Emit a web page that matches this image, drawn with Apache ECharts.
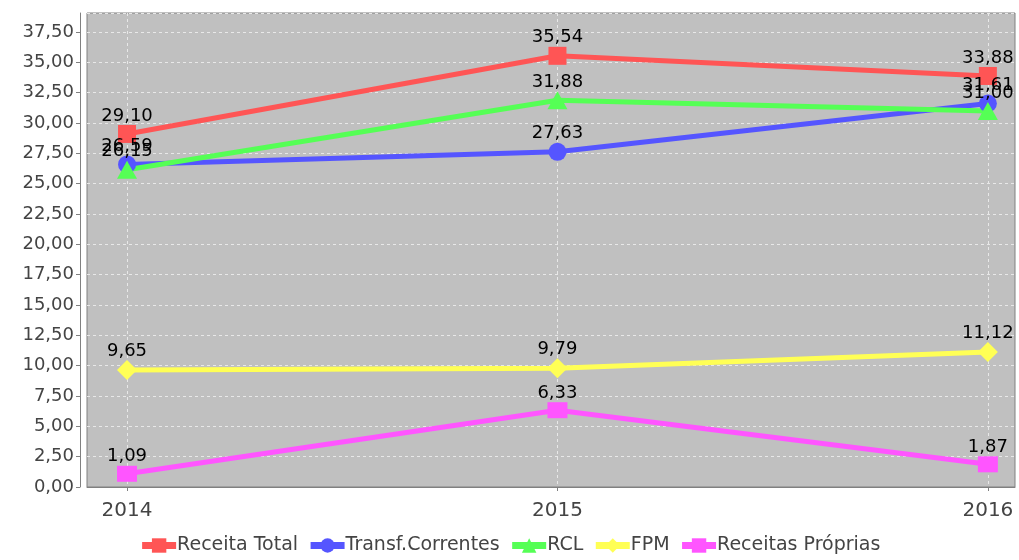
<!DOCTYPE html>
<html>
<head>
<meta charset="utf-8">
<script src="https://cdn.jsdelivr.net/npm/echarts@6/dist/echarts.min.js"></script>
<style>
  html, body { margin: 0; padding: 0; background: #fff; }
  #chart { width: 1019px; height: 560px; }
</style>
</head>
<body>
<div id="chart"></div>
<script>
// dados do gráfico
var anos = [2014, 2015, 2016];
var receitaTotal = [29.10, 35.54, 33.88];
var transfCorrentes = [26.59, 27.63, 31.61];
var rcl = [26.15, 31.88, 31.00];
var fpm = [9.65, 9.79, 11.12];
var receitasProprias = [1.09, 6.33, 1.87];

var nomes = ['Receita Total', 'Transf.Correntes', 'RCL', 'FPM', 'Receitas Próprias'];
var cores = ['#ff5555', '#5555ff', '#55ff55', '#ffff55', '#ff55ff'];
var simbolos = ['rect', 'circle', 'triangle', 'diamond', 'rect'];
var tamanhos = [[18, 18], 18, [20, 18], [20, 20], [20, 16]];
var valores = [receitaTotal, transfCorrentes, rcl, fpm, receitasProprias];

function fmt(v) {
    return Number(v).toFixed(2).replace('.', ',');
}

var myChart = echarts.init(document.getElementById('chart'));

var series = [];
for (var i = 0; i < nomes.length; i++) {
    series.push({
        name: nomes[i],
        type: 'line',
        data: anos.map(function (a, j) { return [a, valores[i][j]]; }),
        symbol: simbolos[i],
        symbolSize: tamanhos[i],
        lineStyle: { width: 5, color: cores[i] },
        itemStyle: { color: cores[i] },
        label: {
            show: true,
            position: 'top',
            distance: 0,
            color: '#000',
            fontFamily: 'DejaVu Sans',
            fontSize: 18,
            formatter: function (p) { return fmt(p.value[1]); }
        },
        emphasis: { disabled: true },
        animation: false
    });
}

var option = {
    backgroundColor: '#fff',
    textStyle: { fontFamily: 'DejaVu Sans' },
    grid: {
        left: 87,
        right: 4,
        top: 13,
        bottom: 73,
        show: true,
        backgroundColor: '#c0c0c0',
        borderColor: '#808080',
        borderWidth: 1
    },
    legend: {
        bottom: 0,
        left: 'center',
        itemGap: 9,
        itemWidth: 34,
        itemHeight: 18,
        lineStyle: { width: 7 },
        textStyle: { color: '#444', fontSize: 19, fontFamily: 'DejaVu Sans', padding: [0, 0, 0, -4] },
        data: nomes
    },
    xAxis: {
        type: 'value',
        min: 2013.907,
        max: 2016.063,
        offset: 6,
        axisLine: { show: true, lineStyle: { color: '#808080', width: 1 } },
        axisTick: { show: true, length: 4, customValues: anos, lineStyle: { color: '#808080' } },
        axisLabel: {
            customValues: anos,
            color: '#444',
            fontSize: 20,
            margin: 8,
            formatter: function (v) { return String(v); }
        },
        splitLine: { show: true, lineStyle: { color: '#e8e8e8', type: [3, 3], width: 1 } }
    },
    yAxis: {
        type: 'value',
        min: 0,
        max: 39.07,
        interval: 2.5,
        offset: 7,
        axisLine: { show: true, lineStyle: { color: '#808080', width: 1 } },
        axisTick: { show: true, length: 4, lineStyle: { color: '#808080' } },
        axisLabel: {
            color: '#444',
            fontSize: 18,
            margin: 6,
            showMaxLabel: false,
            formatter: function (v) { return fmt(v); }
        },
        splitLine: { show: true, lineStyle: { color: '#e8e8e8', type: [3, 3], width: 1 } }
    },
    series: series
};

myChart.setOption(option);
</script>
</body>
</html>
